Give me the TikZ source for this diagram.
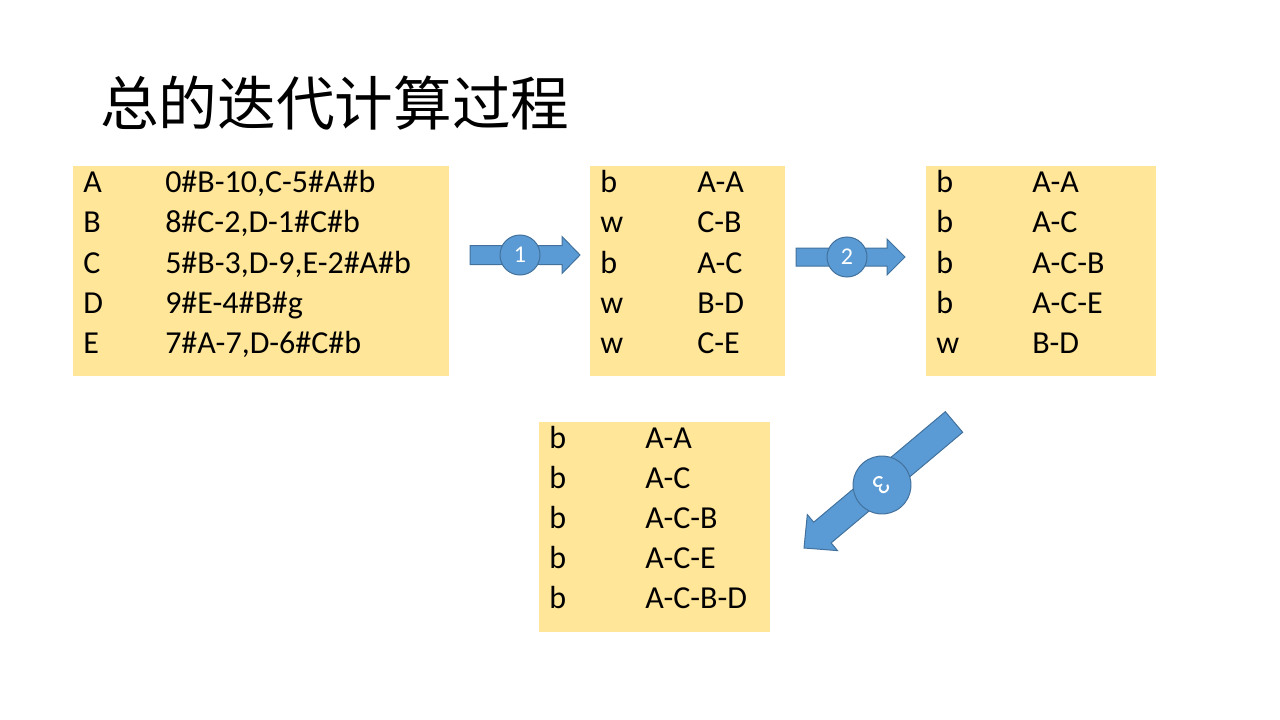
\documentclass[tikz,border=0pt]{standalone}
\usepackage{fontspec}
\setmainfont{Carlito}
\newfontfamily\cjkfont{Noto Sans CJK SC}
\definecolor{boxfill}{HTML}{FFE699}
\definecolor{arrowfill}{HTML}{5B9BD5}
\definecolor{arrowline}{HTML}{41719C}

\begin{document}
\begin{tikzpicture}[x=0.75pt,y=-0.75pt,
  panel/.style={fill=boxfill, draw=none, anchor=north west, inner sep=0pt, outer sep=0pt, minimum height=157.5pt},
  cell/.style={anchor=base west, inner sep=0pt, text=black, font=\fontsize{24}{29}\selectfont},
  blockarrow/.style={fill=arrowfill, draw=arrowline, line width=0.75pt, line join=miter},
  stepmark/.style={circle, fill=arrowfill, draw=arrowline, line width=0.75pt, inner sep=0pt, text=white}]

\useasboundingbox (0,0) rectangle (1280,720);

% title
\node[anchor=west, inner sep=0pt, font=\cjkfont\fontsize{44}{50}\selectfont] (title) at (100,103) {总的迭代计算过程};

% yellow panels
\node[panel, minimum width=282pt]    (p1) at (73,166)  {};
\node[panel, minimum width=146.25pt] (p2) at (590,166) {};
\node[panel, minimum width=172.5pt]  (p3) at (926,166) {};
\node[panel, minimum width=173.25pt] (p4) at (539,422) {};

% panel 1: adjacency records
\foreach \k/\v [count=\i] in {A/{0\#B-10,C-5\#A\#b}, B/{8\#C-2,D-1\#C\#b}, C/{5\#B-3,D-9,E-2\#A\#b}, D/{9\#E-4\#B\#g}, E/{7\#A-7,D-6\#C\#b}}
{
  \node[cell] (a\i) at (83,193+40*\i-40) {\k};
  \node[cell] (av\i) at (165,193+40*\i-40) {\v};
}

% panel 2: after iteration 1
\foreach \k/\v [count=\i] in {b/A-A, w/C-B, b/A-C, w/B-D, w/C-E}
{
  \node[cell] (b\i) at (600,193+40*\i-40) {\k};
  \node[cell] (bv\i) at (697,193+40*\i-40) {\v};
}

% panel 3: after iteration 2
\foreach \k/\v [count=\i] in {b/A-A, b/A-C, b/A-C-B, b/A-C-E, w/B-D}
{
  \node[cell] (c\i) at (936,193+40*\i-40) {\k};
  \node[cell] (cv\i) at (1032,193+40*\i-40) {\v};
}

% panel 4: after iteration 3
\foreach \k/\v [count=\i] in {b/A-A, b/A-C, b/A-C-B, b/A-C-E, b/A-C-B-D}
{
  \node[cell] (d\i) at (549,448+40.2*\i-40.2) {\k};
  \node[cell] (dv\i) at (645,448+40.2*\i-40.2) {\v};
}

% block arrow 1
\draw[blockarrow] (470,245.5) -- (562,245.5) -- (562,236.5) -- (580,255) -- (562,273.5) -- (562,264.5) -- (470,264.5) -- cycle;
\node[stepmark, minimum size=30pt, font=\fontsize{18}{21}\selectfont] (s1) at (520,255) {1};

% block arrow 2
\draw[blockarrow] (796,248) -- (887,248) -- (887,239) -- (905,257) -- (887,275) -- (887,266) -- (796,266) -- cycle;
\node[stepmark, minimum size=30pt, font=\fontsize{18}{21}\selectfont] (s2) at (847,257) {2};

% block arrow 3, pointing down-left
\draw[blockarrow] (962.7,432.3) -- (945.3,411.7) -- (813.7,522.2) -- (807.3,514.6) -- (804,548) -- (837.5,550.6) -- (831.1,542.9) -- cycle;
\node[stepmark, minimum size=43.5pt, rotate=-140, font=\fontsize{21}{24}\selectfont] (s3) at (882,485) {3};

\end{tikzpicture}
\end{document}
